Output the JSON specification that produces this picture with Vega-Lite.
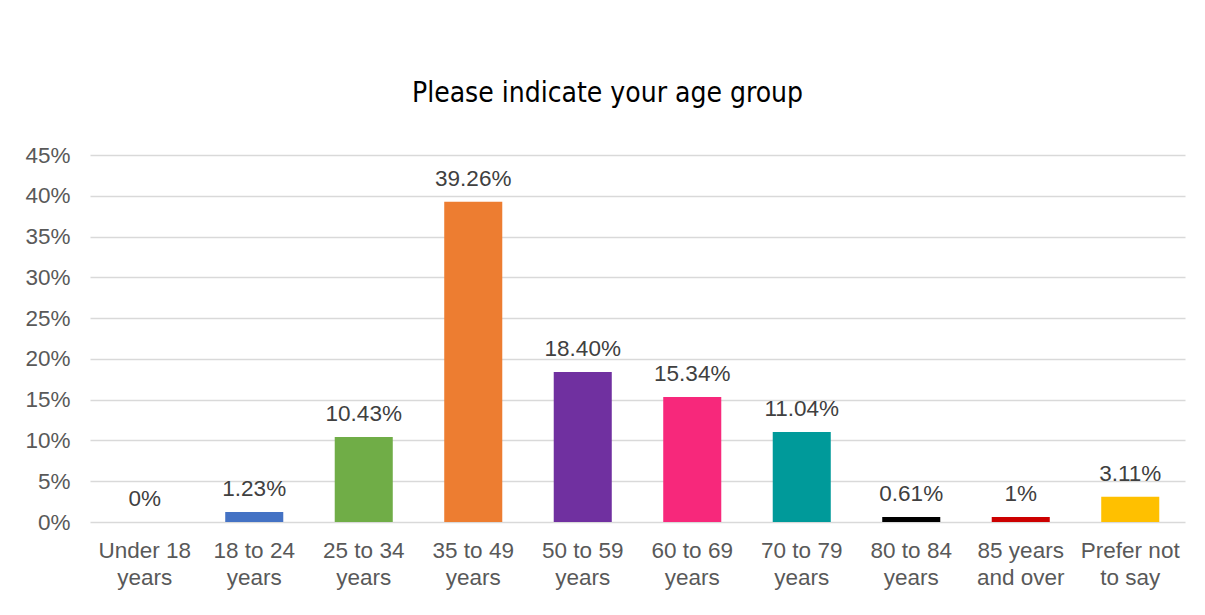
{
  "$schema": "https://vega.github.io/schema/vega-lite/v6.json",
  "width": 1095,
  "height": 367,
  "autosize": {"type": "none"},
  "padding": {"left": 90, "top": 155, "right": 20, "bottom": 93},
  "background": "white",
  "title": {
    "text": "Please indicate your age group",
    "font": "Liberation Sans Narrow, DejaVu Sans Condensed, sans-serif",
    "fontSize": 28,
    "fontWeight": "normal",
    "color": "#000000",
    "anchor": "middle",
    "frame": "group",
    "dx": -30,
    "offset": 36
  },
  "data": {
    "values": [
      {"age": "Under 18\nyears", "pct": 0, "label": "0%", "color": "#4472C4"},
      {"age": "18 to 24\nyears", "pct": 0.0123, "label": "1.23%", "color": "#4472C4"},
      {"age": "25 to 34\nyears", "pct": 0.1043, "label": "10.43%", "color": "#70AD47"},
      {"age": "35 to 49\nyears", "pct": 0.3926, "label": "39.26%", "color": "#ED7D31"},
      {"age": "50 to 59\nyears", "pct": 0.184, "label": "18.40%", "color": "#7030A0"},
      {"age": "60 to 69\nyears", "pct": 0.1534, "label": "15.34%", "color": "#F7287B"},
      {"age": "70 to 79\nyears", "pct": 0.1104, "label": "11.04%", "color": "#009A9A"},
      {"age": "80 to 84\nyears", "pct": 0.0061, "label": "0.61%", "color": "#000000"},
      {"age": "85 years\nand over", "pct": 0.0061, "label": "1%", "color": "#CC0000"},
      {"age": "Prefer not\nto say", "pct": 0.0311, "label": "3.11%", "color": "#FFC000"}
    ]
  },
  "encoding": {
    "x": {
      "field": "age",
      "type": "nominal",
      "sort": null,
      "scale": {"paddingInner": 0.47, "paddingOuter": 0.235},
      "axis": {
        "title": null,
        "labelAngle": 0,
        "labelExpr": "split(datum.value, '\\n')",
        "labelFont": "Liberation Sans, Arial, sans-serif",
        "labelFontSize": 22.5,
        "labelColor": "#595959",
        "labelLineHeight": 27,
        "labelPadding": 17,
        "labelBaseline": "top",
        "ticks": false,
        "domain": false,
        "grid": false
      }
    },
    "y": {
      "field": "pct",
      "type": "quantitative",
      "scale": {"domain": [0, 0.45], "nice": false},
      "axis": {
        "title": null,
        "values": [0, 0.05, 0.1, 0.15, 0.2, 0.25, 0.3, 0.35, 0.4, 0.45],
        "format": ".0%",
        "labelFont": "Liberation Sans, Arial, sans-serif",
        "labelFontSize": 22.5,
        "labelColor": "#595959",
        "labelPadding": 20,
        "ticks": false,
        "domain": false,
        "grid": true,
        "gridColor": "#d9d9d9",
        "gridWidth": 1.5
      }
    }
  },
  "layer": [
    {
      "mark": {"type": "bar"},
      "encoding": {
        "color": {"field": "color", "type": "nominal", "scale": null}
      }
    },
    {
      "mark": {
        "type": "text",
        "baseline": "bottom",
        "dy": -11,
        "font": "Liberation Sans, Arial, sans-serif",
        "fontSize": 22.5,
        "color": "#404040"
      },
      "encoding": {
        "text": {"field": "label", "type": "nominal"}
      }
    }
  ],
  "config": {
    "view": {"stroke": null}
  }
}
